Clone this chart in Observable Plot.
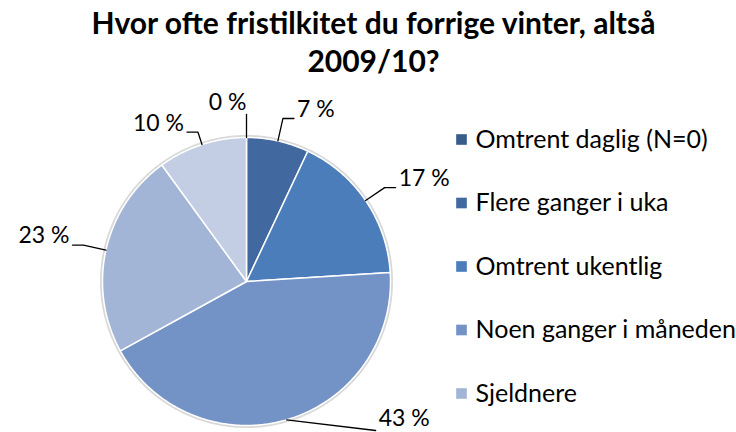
<!DOCTYPE html>
<html>
<head>
<meta charset="utf-8">
<script src="https://cdn.jsdelivr.net/npm/d3@7"></script>
<script src="https://cdn.jsdelivr.net/npm/@observablehq/plot@0.6"></script>
<style>
  html, body { margin: 0; padding: 0; background: #fff; }
  #chart svg { display: block; }
</style>
</head>
<body>
<div id="chart"></div>
<script>
// ---- data ----
const titleLines = ["Hvor ofte fristilkitet du forrige vinter, altså", "2009/10?"];
const categories = ["Omtrent daglig (N=0)", "Flere ganger i uka", "Omtrent ukentlig", "Noen ganger i måneden", "Sjeldnere", "Aldri"];
const values = [0, 7, 17, 43, 23, 10];
const legendCategories = categories.slice(0, 5);
const colors = ["#385D8A", "#41699F", "#4A7DBA", "#7393C6", "#A3B5D7", "#C3CDE3"];

// ---- layout ----
const W = 736, H = 432;
const cx = 246, cy = 281, r = 144;
const font = "Lato, 'Open Sans', sans-serif";

const arcs = d3.pie().sort(null).value(d => d)(values);
const pt = (a, rad) => ({x: cx + rad * Math.sin(a), y: cy - rad * Math.cos(a)});

// slice polygons
const slicePts = [];
arcs.forEach((a, i) => {
  if (a.endAngle - a.startAngle <= 0) return;
  slicePts.push({k: categories[i], x: cx, y: cy});
  const n = Math.max(4, Math.ceil((a.endAngle - a.startAngle) / 0.01));
  for (let j = 0; j <= n; j++) {
    const ang = a.startAngle + (a.endAngle - a.startAngle) * j / n;
    slicePts.push({k: categories[i], ...pt(ang, r)});
  }
});
// outline circle
const ring = d3.range(0, 361).map(d => pt(d * Math.PI / 180, r + 1));

// leader lines + labels
const leaders = [], labels = [];
arcs.forEach((a, i) => {
  const mid = (a.startAngle + a.endAngle) / 2;
  const s = pt(mid, r);
  const onLeftTop = Math.sin(mid) < 0 && Math.cos(mid) > 0.8;
  let e = pt(mid, r * (onLeftTop ? 1.09 : 1.16));
  const right = Math.sin(mid) >= 0;
  const pts = [s];
  let lab;
  if (Math.abs(Math.sin(mid)) < 0.02) {
    pts.push(e);
    lab = {x: e.x, y: e.y - 12, anchor: "end"};
  } else if (e.y > H - 4) {
    e = {x: s.x + 89, y: H - 2};
    pts.push(e);
    lab = {x: e.x + 3, y: e.y - 12, anchor: "start"};
  } else {
    pts.push(e);
    const t = {x: e.x + (right ? 11 : -11), y: e.y};
    pts.push(t);
    lab = {x: t.x + (right ? 3 : -3), y: t.y - 9, anchor: right ? "start" : "end"};
  }
  pts.forEach(p => leaders.push({k: i, ...p}));
  labels.push({...lab, text: `${values[i]} %`});
});

const legend = legendCategories.map((c, i) => ({c, x: 461, y: 139 + i * 63.5}));

const plot = Plot.plot({
  width: W, height: H,
  margin: 0,
  x: {domain: [0, W], range: [0, W], axis: null},
  y: {domain: [0, H], range: [0, H], axis: null},
  color: {domain: categories, range: colors},
  style: {fontFamily: font, background: "#fff"},
  marks: [
    Plot.line(ring, {x: "x", y: "y", stroke: "#d9d9d9", strokeWidth: 3, curve: "linear-closed"}),
    Plot.line(slicePts, {x: "x", y: "y", z: "k", fill: "k", stroke: "#fff", strokeWidth: 1.5, curve: "linear-closed"}),
    Plot.line(leaders, {x: "x", y: "y", z: "k", stroke: "#000", strokeWidth: 1.3}),
    Plot.text(labels.filter(d => d.anchor === "start"), {x: "x", y: "y", text: "text", textAnchor: "start", fontSize: 23, fill: "#000"}),
    Plot.text(labels.filter(d => d.anchor === "end"), {x: "x", y: "y", text: "text", textAnchor: "end", fontSize: 23, fill: "#000"}),
    Plot.dot(legend, {x: "x", y: "y", fill: "c", symbol: "square", r: 6}),
    Plot.text(legend, {x: d => d.x + 14, y: "y", text: "c", textAnchor: "start", fontSize: 25, fill: "#000"}),
    Plot.text(titleLines, {x: 373, y: (d, i) => 24 + i * 38, text: d => d, fontSize: 30, fontWeight: "bold", fill: "#000"})
  ]
});
document.getElementById("chart").appendChild(plot);
</script>
</body>
</html>
